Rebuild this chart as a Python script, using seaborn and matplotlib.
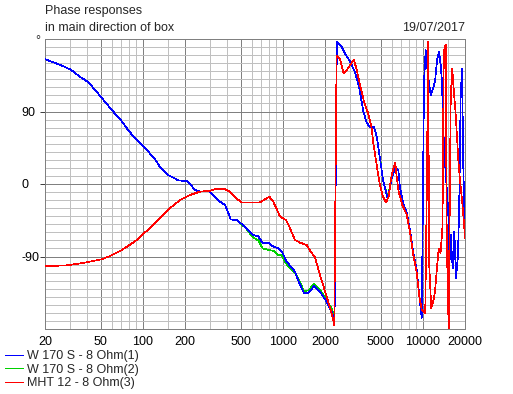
import matplotlib
matplotlib.use("Agg")
import numpy as np
import pandas as pd
import seaborn as sns
import matplotlib.pyplot as plt
from matplotlib.lines import Line2D

# ---------------- data ----------------
freq_w = [20, 25.6, 30.5, 35.6, 40.4, 45.5, 50.8, 59.9, 70.6, 80, 90.3, 100.7, 122, 132.6,
          152, 179, 206, 217, 236, 256, 302, 319, 356, 386, 408, 424, 468, 508, 552,
          609, 668, 718, 800, 855, 927, 982, 1065, 1222, 1310, 1416, 1520, 1678, 1842,
          2056, 2233, 2340, 2430, 2633, 2780, 3017, 3275, 3517, 3756, 3970, 4190, 4478,
          4680, 4940, 5216, 5610, 5990, 6324, 6680, 6870, 7250, 7670, 8090, 8550, 9040,
          9440, 9820, 9980, 10190, 10480, 10940, 11380, 11750, 12210, 12680, 13040,
          13410, 13700, 14000, 14390, 14800, 15190, 15450, 15810, 16330, 16780, 17250,
          17830, 18200, 18630, 19050, 19460, 20000]

phase_w170_1 = [155, 148, 142, 133, 127, 117, 107, 92, 78, 65, 55, 47, 31, 21,
                11, 4.6, 3.5, 0, -7.5, -9.5, -9.5, -13.7, -22, -26, -36, -44, -44.7, -49.7, -55,
                -63, -65, -73.6, -73.6, -77.8, -79.8, -84, -96.4, -109, -123, -135.7, -135, -126.6, -133.7,
                -146, -158.5, -168, 176, 170, 162, 152, 139, 119, 90, 76.5, 70, 71,
                59, 32, 3, -18, 7, 20, 17, -5, -24, -36, -57, -86, -107,
                -140, -166, -40, 127, 166, 131, 110, 117, 127, 156, 164,
                148, 127, 65, 28, -5, -34, -104, -63, -105, -59, -117,
                -88, -22, 110, 143, 19.5, -63]

phase_w170_2 = [155, 148, 142, 133, 127, 117, 107, 92, 78, 65, 55, 47, 31, 21,
                11, 4.6, 3.5, 0, -7.5, -9.5, -9.5, -13.7, -22, -26, -36, -44, -45, -50, -56,
                -66, -70, -80, -82, -83, -88, -88, -100, -110, -120, -133, -132, -124, -131,
                -144, -155, -166, 176, 170, 162, 152, 139, 119, 90, 76.5, 70, 71,
                59, 32, 3, -16, 7, 20, 17, -5, -24, -36, -57, -86, -107,
                -140, -166, -40, 127, 166, 131, 110, 117, 127, 156, 164,
                148, 127, 65, 28, -5, -34, -104, -63, -105, -59, -117,
                -88, -22, 110, 143, 19.5, -63]

freq_mht = [20, 28.5, 37.5, 50.8, 59.9, 70.6, 80, 90.3, 100.7, 122, 136, 156, 184, 217,
            256, 302, 328, 386, 419, 455, 508, 687, 745, 800, 855, 903, 955, 1053, 1125,
            1222, 1326, 1480, 1581, 1697, 1842, 2056, 2233, 2330, 2420, 2550, 2720, 2920,
            3090, 3210, 3350, 3560, 3800, 4060, 4290, 4450, 4680, 4930, 5190, 5460, 5700,
            5930, 6150, 6350, 6500, 6720, 7130, 7670, 8090, 8550, 9040, 9440, 9820, 10080,
            10400, 10700, 10900, 11100, 11480, 11850, 12210, 12600, 12980, 13380, 13780,
            13930, 14050, 14250, 14560, 14800, 15040, 15290, 15540, 15810, 16200, 16650,
            17100, 17500, 17950, 18450, 18900, 19460, 20000]

phase_mht = [-102, -101, -98, -93.5, -88.5, -82, -76, -69.5, -62, -49, -40.6, -30, -20, -13.7,
             -9.5, -8.3, -6.6, -6.6, -9.5, -16.5, -22.8, -22.8, -19, -15.7, -22, -31, -40.5, -44.7, -55,
             -69.5, -72.8, -75.7, -84, -91, -113, -140, -160.5, -175, 159, 156, 137, 143.6,
             150, 154, 143.6, 123, 102, 88, 71, 48, 23.6, -1.2, -15.7, -22.8, -15.7,
             7, 19.5, 26.5, 9, -9.5, -26, -38, -60, -88, -110, -140, -156, -158.5,
             -160, 10, 176, -100, -154, -146, -133.7, -104.7, -80, -86, -55,
             11, 139, 168, 172.5, -59, -125, -179, -38, 106, 143.6, 114.6,
             90, 61, 27.7, 3, -13.7, -38.5, -67]

series_names = ["W 170 S - 8 Ohm(1)", "W 170 S - 8 Ohm(2)", "MHT 12 - 8 Ohm(3)"]
series_colors = ["#0000ff", "#00d000", "#ff0000"]

x_major = [20, 50, 100, 200, 500, 1000, 2000, 5000, 10000, 20000]
x_major_labels = ["20", "50", "100", "200", "500", "1000", "2000", "5000", "10000", "20000"]
x_minor = [30, 40, 60, 70, 80, 90, 150, 300, 400, 600, 700, 800, 900, 1500,
           3000, 4000, 6000, 7000, 8000, 9000, 15000]
y_major = [-90, 0, 90]
y_major_labels = ["-90", "0", "90"]

# ---------------- figure ----------------
sns.set_theme(style="white")
plt.rcParams["font.family"] = ["Liberation Sans", "DejaVu Sans"]
plt.rcParams["lines.antialiased"] = False

W, H = 513, 394
fig = plt.figure(figsize=(W / 100, H / 100), dpi=100)
fig.patch.set_facecolor("white")
L, R, T, B = 45, 465, 39, 329
ax = fig.add_axes([L / W, 1 - B / H, (R - L) / W, (B - T) / H])
ax.set_facecolor("white")

df_w = pd.DataFrame({"f": freq_w, "p1": phase_w170_1, "p2": phase_w170_2})
df_m = pd.DataFrame({"f": freq_mht, "p3": phase_mht})

LW = 0.5
sns.lineplot(data=df_w, x="f", y="p2", ax=ax, color=series_colors[1], linewidth=LW,
             estimator=None, sort=False, legend=False, zorder=3, antialiased=False)
sns.lineplot(data=df_w, x="f", y="p1", ax=ax, color=series_colors[0], linewidth=LW,
             estimator=None, sort=False, legend=False, zorder=4, antialiased=False)
sns.lineplot(data=df_m, x="f", y="p3", ax=ax, color=series_colors[2], linewidth=LW,
             estimator=None, sort=False, legend=False, zorder=5, antialiased=False)

ax.set_xscale("log")
ax.set_xlim(20, 20000)
ax.set_ylim(-180, 180)
ax.set_xlabel("")
ax.set_ylabel("")

ax.set_xticks(x_major)
ax.set_xticklabels(x_major_labels)
ax.set_xticks(x_minor, minor=True)
ax.set_xticklabels([], minor=True)
ax.set_yticks(y_major)
ax.set_yticklabels(y_major_labels)
ax.set_yticks(np.arange(-170, 180, 10), minor=True)

ax.set_axisbelow(True)
ax.grid(which="minor", color="#c0c0c0", lw=0.72)
ax.grid(which="major", color="#808080", lw=0.72)
ax.tick_params(axis="x", which="both", length=0, pad=5, labelsize=9, colors="black")
ax.tick_params(axis="y", which="minor", length=0)
ax.tick_params(axis="y", which="major", length=3.6, width=0.72, color="#404040",
               pad=13.6, labelsize=9, labelcolor="black", direction="out", left=True)
for lbl in ax.get_yticklabels():
    lbl.set_horizontalalignment("left")
for s in ax.spines.values():
    s.set_color("#808080")
    s.set_linewidth(0.72)

fs = 9
fig.text(L / W, 1 - 11 / H, "Phase responses", ha="left", va="center", fontsize=fs)
fig.text(L / W, 1 - 28 / H, "in main direction of box", ha="left", va="center", fontsize=fs)
fig.text(R / W, 1 - 28 / H, "19/07/2017", ha="right", va="center", fontsize=fs)
fig.text(38 / W, 1 - 41 / H, "°", ha="center", va="center", fontsize=fs)

handles = [Line2D([0], [0], color=c, lw=0.72, antialiased=False) for c in series_colors]
fig.legend(handles, series_names, loc="upper left", bbox_to_anchor=(5 / W, 1 - 350 / H),
           frameon=False, fontsize=fs, handlelength=1.45, handletextpad=0.35,
           labelspacing=0.12, borderaxespad=0, borderpad=0)

fig.savefig("out.png", dpi=100, facecolor="white")
